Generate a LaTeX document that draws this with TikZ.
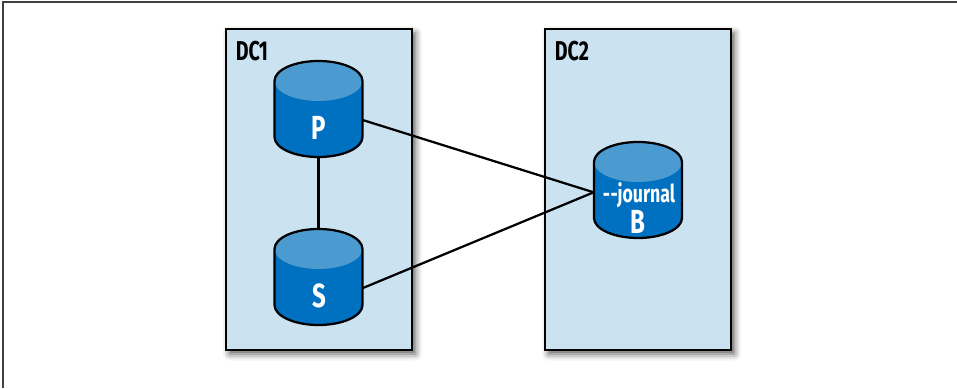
\documentclass[tikz,border=0pt]{standalone}
\usepackage{fontspec}
\setmainfont[FakeStretch=0.72]{Fira Sans}
\usetikzlibrary{calc,shadows.blur}
\definecolor{dcblue}{RGB}{203,226,241}
\definecolor{dbbody}{RGB}{0,112,192}
\definecolor{dbtop}{RGB}{76,155,208}
\tikzset{
	dcbox/.style={draw=black, line width=0.055cm, fill=dcblue, minimum width=3.72cm, minimum height=6.42cm, blur shadow={shadow xshift=0.07cm, shadow yshift=-0.08cm, shadow blur radius=0.13cm, shadow opacity=65}},
	dctitle/.style={font=\bfseries\fontsize{15.5}{17}\selectfont, anchor=north west, inner sep=0},
	dbnode/.style={minimum width=1.76cm, minimum height=1.92cm, inner sep=0},
	dblabel/.style={text=white, inner sep=0, font=\bfseries\fontsize{19}{21}\selectfont},
	dbflag/.style={text=white, inner sep=0, font=\bfseries\fontsize{14}{16}\selectfont},
	dblink/.style={line width=0.045cm, color=black}
}
% cylinder behind a node
\newcommand{\dbshape}[1]{
	\fill[dbbody] ($(#1)+(-0.88,0.56)$) -- ($(#1)+(-0.88,-0.56)$) arc (180:360:0.88 and 0.40) -- ($(#1)+(0.88,0.56)$) arc (0:180:0.88 and 0.40) -- cycle;
	\fill[dbtop] ($(#1)+(0,0.56)$) ellipse (0.88 and 0.40);
	\draw[dblink] ($(#1)+(-0.88,0.56)$) -- ($(#1)+(-0.88,-0.56)$) arc (180:360:0.88 and 0.40) -- ($(#1)+(0.88,0.56)$) arc (0:180:0.88 and 0.40) -- cycle;
}
\begin{document}
\begin{tikzpicture}
	\useasboundingbox (0,0) rectangle (19.14,7.76);
	% frame, top and left only
	\draw[line width=0.03cm, color=black!75] (0.06,0) -- (0.06,7.72) -- (19.14,7.72);
	
	\node[dcbox] (dc1) at (6.38,3.97) {};
	\node[dcbox] (dc2) at (12.76,3.97) {};
	\node[dctitle] (dc1title) at (4.71,6.95) {DC1};
	\node[dctitle] (dc2title) at (11.09,6.95) {DC2};
	
	\dbshape{6.37,5.58}
	\dbshape{6.37,2.22}
	\dbshape{12.76,3.96}
	
	\node[dbnode] (p) at (6.37,5.58) {};
	\node[dbnode] (s) at (6.37,2.22) {};
	\node[dbnode] (b) at (12.76,3.96) {};
	\node[dblabel] (plabel) at (6.38,5.2) {P};
	\node[dblabel] (slabel) at (6.38,1.84) {S};
	\node[dbflag] (jflag) at (12.78,3.86) {-\kern0.3pt-journal};
	\node[dblabel] (blabel) at (12.76,3.32) {B};
	
	\draw[dblink] (p.south) -- (s.north);
	\draw[dblink] (p.-14) -- (b.183);
	\draw[dblink] (s.-14) -- (b.183);
\end{tikzpicture}
\end{document}
